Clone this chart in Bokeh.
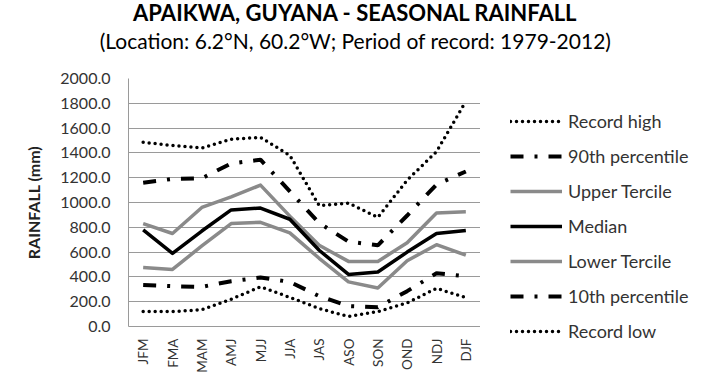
import math
from bokeh.plotting import figure
from bokeh.layouts import column, row
from bokeh.models import (FactorRange, Range1d, Legend, LegendItem, Label,
                          NumeralTickFormatter, FixedTicker, ColumnDataSource)
from bokeh.embed import file_html
from bokeh.resources import INLINE

seasons = ["JFM", "FMA", "MAM", "AMJ", "MJJ", "JJA", "JAS", "ASO", "SON", "OND", "NDJ", "DJF"]
record_high = [1485, 1460, 1440, 1510, 1525, 1380, 975, 995, 880, 1180, 1410, 1815]
pct90 = [1160, 1190, 1195, 1315, 1345, 1090, 835, 685, 655, 895, 1145, 1250]
upper_tercile = [830, 750, 960, 1045, 1140, 890, 655, 525, 525, 675, 915, 925]
median = [780, 590, 770, 940, 955, 865, 615, 420, 440, 600, 750, 775]
lower_tercile = [475, 460, 650, 830, 840, 755, 550, 360, 310, 530, 660, 575]
pct10 = [335, 325, 320, 365, 395, 360, 245, 165, 155, 285, 430, 405]
record_low = [120, 120, 135, 220, 320, 235, 145, 80, 120, 190, 308, 233]
y_ticks = [0, 200, 400, 600, 800, 1000, 1200, 1400, 1600, 1800, 2000]
series_labels = ["Record high", "90th percentile", "Upper Tercile", "Median",
                 "Lower Tercile", "10th percentile", "Record low"]

title_text = "APAIKWA, GUYANA - SEASONAL RAINFALL"
subtitle_text = "(Location: 6.2°N, 60.2°W; Period of record: 1979-2012)"

FONT = "Lato"
TITLE_H = 68
MAIN_W, LEG_W = 480, 230
BODY_H = 375 - TITLE_H

src = ColumnDataSource(dict(x=seasons, rh=record_high, p90=pct90, ut=upper_tercile,
                            md=median, lt=lower_tercile, p10=pct10, rl=record_low))

dot = dict(line_color="black", line_width=3.5, line_dash="0 6", line_cap="round")
dashdot = dict(line_color="black", line_width=4, line_dash="13 11 3 11", line_cap="butt")
gray = dict(line_color="#8a8a8a", line_width=3.5, line_join="round")
blk = dict(line_color="black", line_width=3.5, line_join="round")
styles = [("rh", dot), ("p90", dashdot), ("ut", gray), ("md", blk),
          ("lt", gray), ("p10", dashdot), ("rl", dot)]

# ---- title strip ----
tf = figure(width=710, height=TITLE_H, title=None, x_range=Range1d(0, 710),
            y_range=Range1d(TITLE_H, 0), x_axis_type=None, y_axis_type=None,
            toolbar_location=None, output_backend="svg", min_border=0)
tf.outline_line_color = None
tf.add_layout(Label(x=355, y=12, text=title_text, text_align="center",
                    text_baseline="alphabetic", text_font=FONT, text_font_style="bold",
                    text_font_size="22px", text_color="black"))
tf.add_layout(Label(x=355, y=40, text=subtitle_text, text_align="center",
                    text_baseline="alphabetic", text_font=FONT,
                    text_font_size="21px", text_color="black"))

# ---- main chart ----
p = figure(width=MAIN_W, height=BODY_H, title=None,
           x_range=FactorRange(*seasons, range_padding=0),
           y_range=Range1d(0, 2000),
           output_backend="svg", toolbar_location=None,
           min_border_left=128, min_border_right=0,
           min_border_top=10, min_border_bottom=48)
p.outline_line_color = None
for col, st in styles:
    p.line("x", col, source=src, **st)

p.xgrid.visible = False
p.ygrid.grid_line_color = "#9a9a9a"
p.ygrid.grid_line_width = 1
p.yaxis.ticker = FixedTicker(ticks=y_ticks)
p.yaxis.formatter = NumeralTickFormatter(format="0.0")
for ax in (p.xaxis[0], p.yaxis[0]):
    ax.axis_line_color = "#9a9a9a"
    ax.major_tick_line_color = None
    ax.minor_tick_line_color = None
    ax.major_tick_out = 0
    ax.major_tick_in = 0
    ax.major_label_text_font = FONT
    ax.major_label_text_color = "#333333"
p.yaxis.major_label_text_font_size = "16px"
p.xaxis.major_label_text_font_size = "13.5px"
p.yaxis.major_label_standoff = 18
p.xaxis.major_label_standoff = 12
p.xaxis.major_label_orientation = math.pi / 2
p.yaxis.axis_label = "RAINFALL (mm)"
p.yaxis.axis_label_text_font = FONT
p.yaxis.axis_label_text_font_style = "bold"
p.yaxis.axis_label_text_font_size = "16px"
p.yaxis.axis_label_text_color = "#222222"
p.yaxis.axis_label_standoff = 14

# ---- legend strip (same series, drawn outside its visible y range) ----
lf = figure(width=LEG_W, height=BODY_H, title=None,
            x_range=FactorRange(*seasons), y_range=Range1d(10000, 10001),
            x_axis_type=None, y_axis_type=None,
            toolbar_location=None, output_backend="svg", min_border=0)
lf.outline_line_color = None
lf.grid.visible = False
leg_renderers = [lf.line("x", col, source=src, **st) for col, st in styles]
legend = Legend(items=[LegendItem(label=lab, renderers=[r])
                       for lab, r in zip(series_labels, leg_renderers)],
                location=(30, -19), margin=0, padding=0, spacing=7,
                label_height=28, glyph_height=28, glyph_width=52, label_standoff=6,
                label_text_font=FONT, label_text_font_size="18px",
                label_text_color="#333333",
                border_line_color=None, background_fill_alpha=0)
lf.add_layout(legend, "left")

layout = column(tf, row(p, lf))
open("out.html", "w").write(file_html(layout, INLINE))
